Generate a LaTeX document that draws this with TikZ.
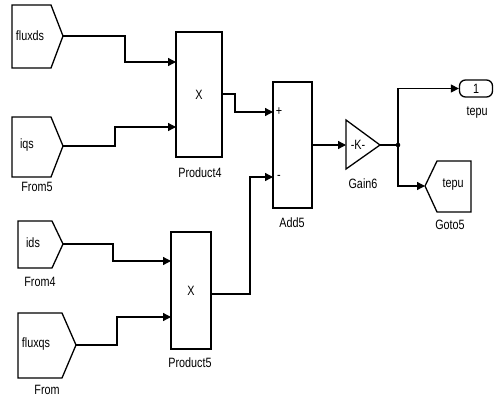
\documentclass[tikz,border=0pt]{standalone}
\usepackage{fontspec}
\setmainfont[FakeStretch=0.8]{Liberation Sans}
\usetikzlibrary{arrows.meta,calc}

\begin{document}
\begin{tikzpicture}[x=1pt,y=-1pt,
  blk/.style={draw, line width=1.3pt, fill=white, inner sep=0pt},
  outline/.style={draw, line width=1.3pt, line join=miter},
  wire/.style={line width=1.3pt},
  arr/.style={wire, -{Triangle[length=8pt,width=8pt]}},
  txt/.style={font=\fontsize{13.5}{14}\selectfont, inner sep=0pt},
  lbl/.style={font=\fontsize{13.5}{14}\selectfont, inner sep=0pt}]
\useasboundingbox (0,0) rectangle (494,399);

% ---- From blocks (signal inputs) ----
\draw[outline] (12,5) -- (51,5) -- (63,36) -- (51,68) -- (12,68) -- cycle;
\coordinate (fluxds) at (63,36);
\node[txt] (tfluxds) at (30,36) {fluxds};

\draw[outline] (12,117) -- (51,117) -- (63,146) -- (51,177) -- (12,177) -- cycle;
\coordinate (iqs) at (63,146);
\node[txt] (tiqs) at (27,145) {iqs};
\node[lbl] (lfrom5) at (37,187) {From5};

\draw[outline] (18,221) -- (52,221) -- (63,244) -- (52,268) -- (18,268) -- cycle;
\coordinate (ids) at (63,244);
\node[txt] (tids) at (33,243) {ids};
\node[lbl] (lfrom4) at (40,282) {From4};

\draw[outline] (18,313) -- (62,313) -- (76,345) -- (62,378) -- (18,378) -- cycle;
\coordinate (fluxqs) at (76,345);
\node[txt] (tfluxqs) at (36,344) {fluxqs};
\node[lbl] (lfrom) at (47,390) {From};

% ---- Products ----
\node[blk, minimum width=46pt, minimum height=125pt] (p4) at (199,94.5) {};
\node[txt] (xp4) at (p4) {X};
\node[lbl] (lp4) at (200,173) {Product4};
\coordinate (p4a) at (176,62);
\coordinate (p4b) at (176,127);

\node[blk, minimum width=40pt, minimum height=117pt] (p5) at (191,290.5) {};
\node[txt] (xp5) at (p5) {X};
\node[lbl] (lp5) at (190,363) {Product5};
\coordinate (p5a) at (171,261);
\coordinate (p5b) at (171,317);

% ---- Sum ----
\node[blk, minimum width=39pt, minimum height=126pt] (a5) at (292.5,145) {};
\node[txt] (plus) at (279,112) {+};
\node[txt] (minus) at (279,177) {-};
\node[lbl] (la5) at (292,223) {Add5};
\coordinate (a5a) at (273,112);
\coordinate (a5b) at (273,177);

% ---- Gain ----
\draw[outline] (346,120) -- (380,145) -- (346,169) -- cycle;
\coordinate (g6in) at (346,145);
\coordinate (g6out) at (380,145);
\node[txt] (kg) at (358,145) {-K-};
\node[lbl] (lg6) at (363,184) {Gain6};

% ---- Outport ----
\node[draw, line width=1.3pt, rounded corners=6pt, minimum width=33pt, minimum height=17pt, inner sep=0pt] (out1) at (476,88.5) {};
\node[txt] (one) at (out1) {1};
\node[lbl] (lout) at (477,113) {tepu};

% ---- Goto ----
\draw[outline] (425,186) -- (437,161) -- (471,161) -- (471,212) -- (437,212) -- cycle;
\coordinate (goto) at (425,186);
\node[txt] (tgoto) at (453,185) {tepu};
\node[lbl] (lgoto) at (450,225) {Goto5};

% ---- Connectors ----
\draw[arr] (fluxds) -- (125,36) |- (p4a);
\draw[arr] (iqs) -- (115,146) |- (p4b);
\draw[arr] (ids) -- (113,244) |- (p5a);
\draw[arr] (fluxqs) -- (117,345) |- (p5b);
\draw[arr] (222,94) -- (235,94) |- (a5a);
\draw[arr] (211,294) -- (250,294) |- (a5b);
\draw[arr] (312,145) -- (g6in);
\coordinate (br) at (398,145);
\draw[wire] (g6out) -- (br);
\draw[arr] (br) |- (out1.west);
\draw[arr] (br) |- (goto);
\fill (br) circle (2.3pt);
\end{tikzpicture}
\end{document}
